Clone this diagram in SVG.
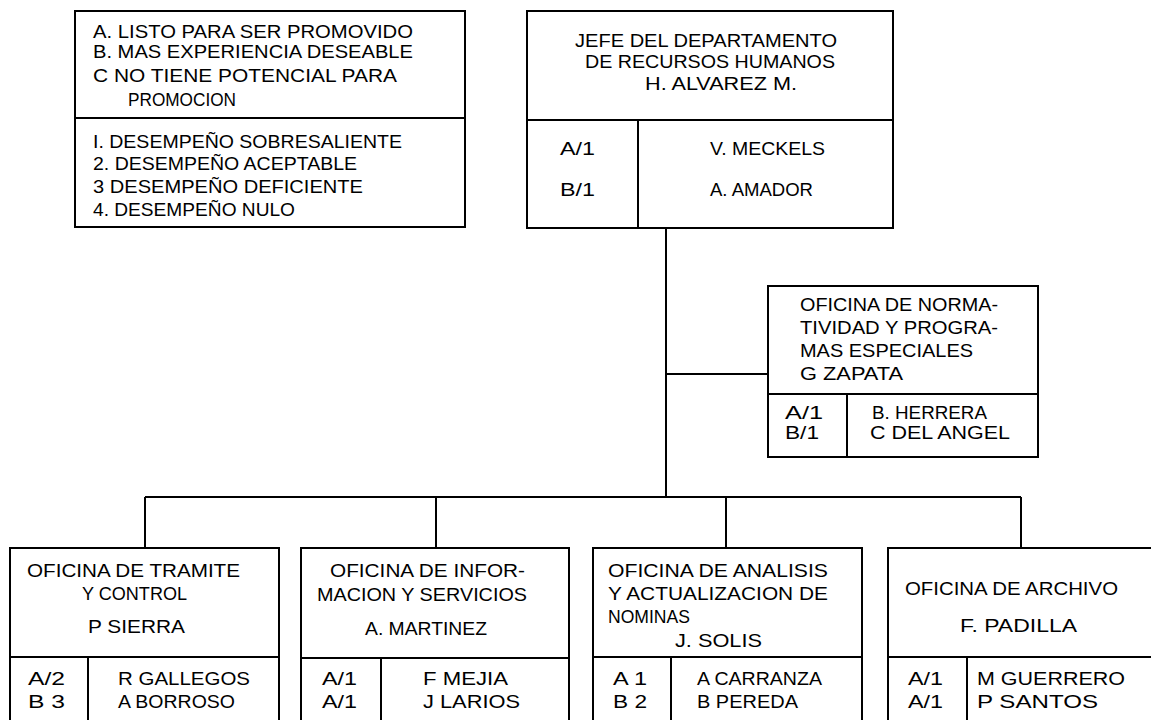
<svg xmlns="http://www.w3.org/2000/svg" width="1151" height="720" viewBox="0 0 1151 720">
<style>
.b{fill:none;stroke:#000;stroke-width:2}
.c{fill:none;stroke:#000;stroke-width:2}
text{font-family:"Liberation Sans",Arial,sans-serif;font-size:18px;fill:#000}
</style>
<rect width="1151" height="720" fill="#fff"/>
<g id="legend">
<rect class="b" x="75" y="11" width="390" height="216"/>
<line class="b" x1="75" y1="118" x2="465" y2="118"/>
<text x="93" y="38" textLength="320" lengthAdjust="spacingAndGlyphs">A. LISTO PARA SER PROMOVIDO</text>
<text x="93" y="58" textLength="320" lengthAdjust="spacingAndGlyphs">B. MAS EXPERIENCIA DESEABLE</text>
<text x="93" y="82" textLength="304" lengthAdjust="spacingAndGlyphs">C  NO TIENE POTENCIAL PARA</text>
<text x="128" y="106" textLength="108" lengthAdjust="spacingAndGlyphs">PROMOCION</text>
<text x="93" y="148" textLength="309" lengthAdjust="spacingAndGlyphs">I. DESEMPEÑO SOBRESALIENTE</text>
<text x="93" y="170" textLength="264" lengthAdjust="spacingAndGlyphs">2. DESEMPEÑO ACEPTABLE</text>
<text x="93" y="193" textLength="270" lengthAdjust="spacingAndGlyphs">3  DESEMPEÑO DEFICIENTE</text>
<text x="93" y="216" textLength="202" lengthAdjust="spacingAndGlyphs">4. DESEMPEÑO NULO</text>
</g>
<g id="jefe">
<rect class="b" x="527" y="11" width="366" height="217"/>
<line class="b" x1="527" y1="120" x2="893" y2="120"/>
<line class="b" x1="638" y1="120" x2="638" y2="228"/>
<text x="575" y="47" textLength="262" lengthAdjust="spacingAndGlyphs">JEFE DEL DEPARTAMENTO</text>
<text x="585" y="68" textLength="250" lengthAdjust="spacingAndGlyphs">DE RECURSOS HUMANOS</text>
<text x="645" y="90" textLength="152" lengthAdjust="spacingAndGlyphs">H. ALVAREZ M.</text>
<text x="560" y="155" textLength="35" lengthAdjust="spacingAndGlyphs">A/1</text>
<text x="560" y="196" textLength="35" lengthAdjust="spacingAndGlyphs">B/1</text>
<text x="710" y="155" textLength="115" lengthAdjust="spacingAndGlyphs">V. MECKELS</text>
<text x="710" y="196" textLength="103" lengthAdjust="spacingAndGlyphs">A. AMADOR</text>
</g>
<g id="connectors">
<line class="c" x1="666" y1="228" x2="666" y2="497"/>
<line class="c" x1="666" y1="374" x2="768" y2="374"/>
<line class="c" x1="145" y1="497" x2="1021" y2="497"/>
<line class="c" x1="145" y1="497" x2="145" y2="548"/>
<line class="c" x1="436" y1="497" x2="436" y2="548"/>
<line class="c" x1="726" y1="497" x2="726" y2="548"/>
<line class="c" x1="1021" y1="497" x2="1021" y2="548"/>
</g>
<g id="normatividad">
<rect class="b" x="768" y="286" width="270" height="171"/>
<line class="b" x1="768" y1="394" x2="1038" y2="394"/>
<line class="b" x1="847" y1="394" x2="847" y2="457"/>
<text x="800" y="311" textLength="198" lengthAdjust="spacingAndGlyphs">OFICINA DE NORMA-</text>
<text x="800" y="334" textLength="198" lengthAdjust="spacingAndGlyphs">TIVIDAD Y PROGRA-</text>
<text x="800" y="357" textLength="173" lengthAdjust="spacingAndGlyphs">MAS ESPECIALES</text>
<text x="800" y="380" textLength="103" lengthAdjust="spacingAndGlyphs">G  ZAPATA</text>
<text x="785" y="419" textLength="38" lengthAdjust="spacingAndGlyphs">A/1</text>
<text x="785" y="439" textLength="34" lengthAdjust="spacingAndGlyphs">B/1</text>
<text x="872" y="419" textLength="115" lengthAdjust="spacingAndGlyphs">B. HERRERA</text>
<text x="870" y="439" textLength="140" lengthAdjust="spacingAndGlyphs">C  DEL  ANGEL</text>
</g>
<g id="tramite">
<rect class="b" x="10" y="548" width="269" height="190"/>
<line class="b" x1="10" y1="657" x2="279" y2="657"/>
<line class="b" x1="88" y1="657" x2="88" y2="738"/>
<text x="27" y="577" textLength="213" lengthAdjust="spacingAndGlyphs">OFICINA DE TRAMITE</text>
<text x="82" y="600" textLength="105" lengthAdjust="spacingAndGlyphs">Y CONTROL</text>
<text x="88" y="633" textLength="97" lengthAdjust="spacingAndGlyphs">P  SIERRA</text>
<text x="28" y="685" textLength="37" lengthAdjust="spacingAndGlyphs">A/2</text>
<text x="28" y="708" textLength="37" lengthAdjust="spacingAndGlyphs">B  3</text>
<text x="118" y="685" textLength="132" lengthAdjust="spacingAndGlyphs">R  GALLEGOS</text>
<text x="118" y="708" textLength="117" lengthAdjust="spacingAndGlyphs">A  BORROSO</text>
</g>
<g id="informacion">
<rect class="b" x="301" y="548" width="268" height="190"/>
<line class="b" x1="301" y1="658" x2="569" y2="658"/>
<line class="b" x1="381" y1="658" x2="381" y2="738"/>
<text x="330" y="577" textLength="195" lengthAdjust="spacingAndGlyphs">OFICINA DE INFOR-</text>
<text x="317" y="601" textLength="210" lengthAdjust="spacingAndGlyphs">MACION Y SERVICIOS</text>
<text x="365" y="635" textLength="122" lengthAdjust="spacingAndGlyphs">A. MARTINEZ</text>
<text x="322" y="685" textLength="35" lengthAdjust="spacingAndGlyphs">A/1</text>
<text x="322" y="708" textLength="35" lengthAdjust="spacingAndGlyphs">A/1</text>
<text x="423" y="685" textLength="85" lengthAdjust="spacingAndGlyphs">F  MEJIA</text>
<text x="423" y="708" textLength="97" lengthAdjust="spacingAndGlyphs">J  LARIOS</text>
</g>
<g id="analisis">
<rect class="b" x="593" y="548" width="269" height="190"/>
<line class="b" x1="593" y1="657" x2="862" y2="657"/>
<line class="b" x1="671" y1="657" x2="671" y2="738"/>
<text x="608" y="577" textLength="220" lengthAdjust="spacingAndGlyphs">OFICINA DE ANALISIS</text>
<text x="608" y="600" textLength="220" lengthAdjust="spacingAndGlyphs">Y ACTUALIZACION DE</text>
<text x="608" y="623" textLength="82" lengthAdjust="spacingAndGlyphs">NOMINAS</text>
<text x="675" y="647" textLength="87" lengthAdjust="spacingAndGlyphs">J. SOLIS</text>
<text x="613" y="685" textLength="34" lengthAdjust="spacingAndGlyphs">A  1</text>
<text x="613" y="708" textLength="34" lengthAdjust="spacingAndGlyphs">B  2</text>
<text x="697" y="685" textLength="125" lengthAdjust="spacingAndGlyphs">A  CARRANZA</text>
<text x="697" y="708" textLength="101" lengthAdjust="spacingAndGlyphs">B  PEREDA</text>
</g>
<g id="archivo">
<rect class="b" x="888" y="548" width="280" height="190"/>
<line class="b" x1="888" y1="657" x2="1168" y2="657"/>
<line class="b" x1="967" y1="657" x2="967" y2="738"/>
<text x="905" y="595" textLength="213" lengthAdjust="spacingAndGlyphs">OFICINA DE ARCHIVO</text>
<text x="960" y="632" textLength="117" lengthAdjust="spacingAndGlyphs">F. PADILLA</text>
<text x="908" y="685" textLength="35" lengthAdjust="spacingAndGlyphs">A/1</text>
<text x="908" y="708" textLength="35" lengthAdjust="spacingAndGlyphs">A/1</text>
<text x="977" y="685" textLength="148" lengthAdjust="spacingAndGlyphs">M  GUERRERO</text>
<text x="977" y="708" textLength="121" lengthAdjust="spacingAndGlyphs">P  SANTOS</text>
</g>
</svg>
